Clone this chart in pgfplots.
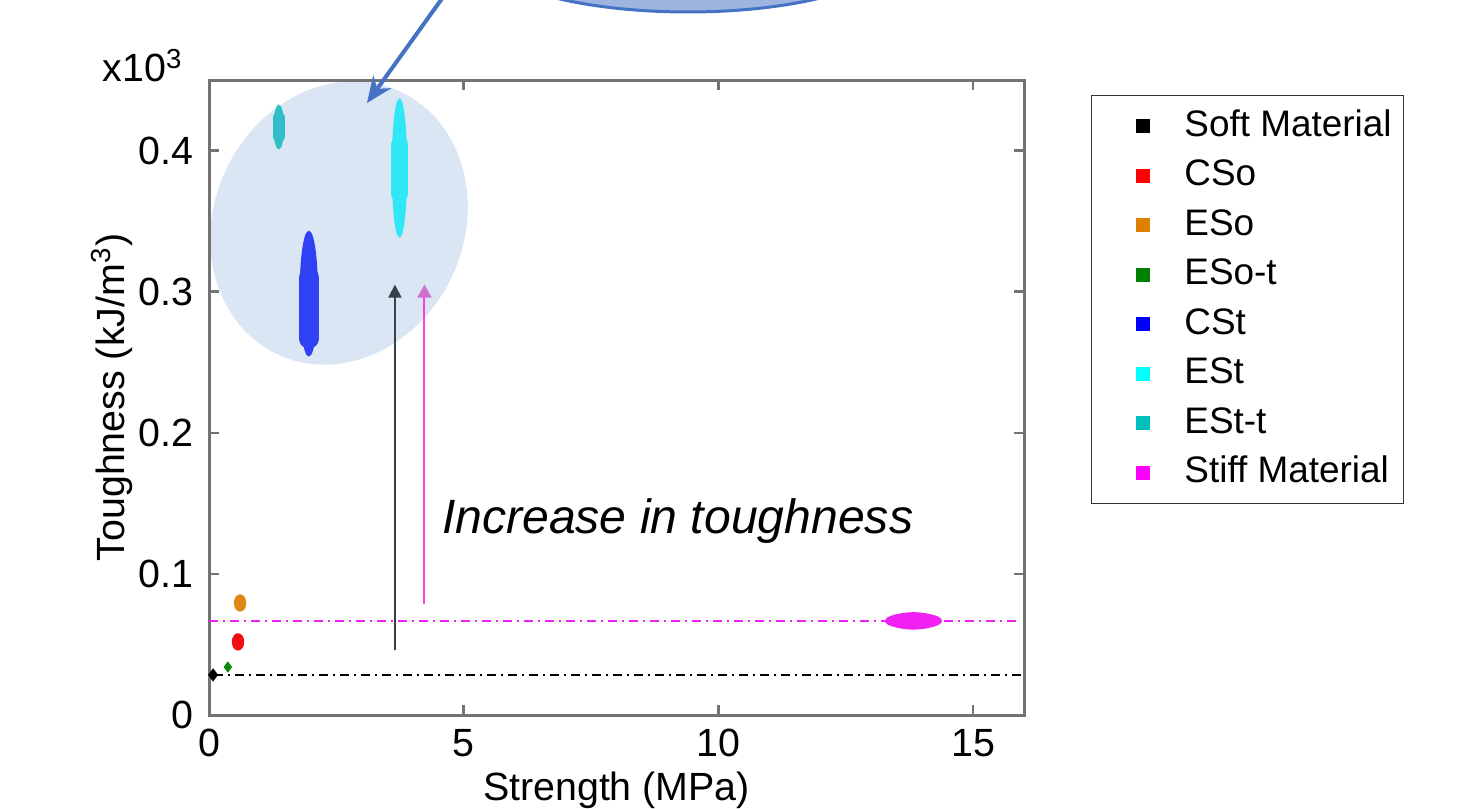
\documentclass[border=0pt]{standalone}
\usepackage{pgfplots}
\pgfplotsset{compat=1.18}
\usepackage{fontspec}
\setmainfont{Liberation Sans}
\usetikzlibrary{arrows.meta}
\definecolor{annfill}{HTML}{DAE6F4}
\definecolor{callfill}{HTML}{9DB4E0}
\definecolor{callline}{HTML}{4472C4}
\definecolor{csoc}{HTML}{F01010}
\definecolor{esoc}{HTML}{E08815}
\definecolor{esotc}{HTML}{0A8A0A}
\definecolor{cstc}{HTML}{3040F5}
\definecolor{estc}{HTML}{30E8F5}
\definecolor{esttc}{HTML}{30BFC8}
\definecolor{stiffc}{HTML}{F020F0}
\definecolor{lgblack}{HTML}{000000}
\definecolor{lgred}{HTML}{FF0000}
\definecolor{lgorange}{HTML}{DD8000}
\definecolor{lggreen}{HTML}{008000}
\definecolor{lgblue}{HTML}{0000FF}
\definecolor{lgcyan}{HTML}{00FFFF}
\definecolor{lgteal}{HTML}{00BFBF}
\definecolor{lgmag}{HTML}{FF00FF}
\definecolor{arrdark}{HTML}{37414B}
\definecolor{arrpink}{HTML}{FF40E0}
\definecolor{arrhead}{HTML}{D070D0}
\newcommand{\lgsq}[1]{\addlegendimage{legend image code/.code={\fill[#1] (0mm,-0.65mm) rectangle (1.3mm,0.65mm); \path (-4.0mm,0) (4.0mm,0);}}}
\begin{document}
\begin{tikzpicture}
\useasboundingbox (0,0) rectangle (147.6mm,80.8mm);
\clip (0,0) rectangle (147.6mm,80.8mm);
\fill[annfill] (33.9mm,58.5mm) ellipse[x radius=12.5mm, y radius=14.5mm, rotate=-25];
\filldraw[fill=callfill, draw=callline, line width=0.3mm] (68.8mm,85.6mm) ellipse[x radius=20.6mm, y radius=6mm];
\begin{axis}[
  at={(20.9mm,9.3mm)}, anchor=south west,
  scale only axis, width=81.5mm, height=63.5mm,
  xmin=0, xmax=16, ymin=0, ymax=0.45,
  xtick={0,5,10,15}, xticklabels={0,5,10,15},
  ytick={0,0.1,0.2,0.3,0.4}, yticklabels={0,0.1,0.2,0.3,0.4},
  scaled y ticks=false,
  /pgf/number format/assume math mode=true,
  tick align=inside, major tick length=1mm,
  axis line style={black!55, line width=0.3mm},
  every tick/.style={black!55, line width=0.25mm},
  tick label style={font=\fontsize{11.2}{13}\selectfont, black},
  xticklabel style={yshift=-0.2mm},
  yticklabel style={xshift=-0.3mm},
  label style={font=\fontsize{11.2}{13}\selectfont},
  xlabel={Strength (MPa)},
  ylabel={Toughness (kJ/m\textsuperscript{3})},
  xlabel style={at={(axis description cs:0.5,-0.118)}, anchor=center},
  ylabel style={at={(axis description cs:-0.119,0.5)}, anchor=center},
  legend style={at={(1.082,0.976)}, anchor=north west, draw=black!80, line width=0.3pt,
    font=\fontsize{10.5}{12}\selectfont, legend cell align=left,
    nodes={text height=2.8mm, text depth=0.8mm, inner ysep=0.5mm},
    row sep=0.35mm, inner ysep=0.75mm, inner xsep=0.5mm},
]
% reference lines
\addplot[forget plot, black, line width=0.2mm, dash pattern=on 0.9mm off 0.5mm on 0.2mm off 0.5mm] coordinates {(0.1,0.0284) (16,0.0284)};
\addplot[forget plot, stiffc, line width=0.2mm, dash pattern=on 0.9mm off 0.5mm on 0.2mm off 0.5mm] coordinates {(0,0.0667) (15.9,0.0667)};
% Soft material
\addplot[forget plot, only marks, mark=diamond*, mark size=0.55mm, black] coordinates {(0.08,0.0284)};
% CSo
\addplot[forget plot, only marks, mark=*, mark size=0.55mm, csoc, mark options={yscale=1.45}] coordinates {(0.57,0.0518)};
% ESo
\addplot[forget plot, only marks, mark=*, mark size=0.55mm, esoc, mark options={yscale=1.45}] coordinates {(0.61,0.0794)};
% ESo-t
\addplot[forget plot, only marks, mark=diamond*, mark size=0.45mm, esotc] coordinates {(0.37,0.034)};
% CSt
\addplot[forget plot, only marks, mark=*, mark size=0.85mm, cstc, mark options={yscale=7.3}] coordinates {(1.96,0.2986)};
\addplot[forget plot, cstc, line width=2.0mm, line cap=round] coordinates {(1.96,0.3099) (1.96,0.2667)};
% ESt
\addplot[forget plot, only marks, mark=*, mark size=0.7mm, estc, mark options={yscale=9.8}] coordinates {(3.74,0.3876)};
\addplot[forget plot, estc, line width=1.7mm, line cap=round] coordinates {(3.74,0.4043) (3.74,0.3695)};
% ESt-t
\addplot[forget plot, only marks, mark=*, mark size=0.45mm, esttc, mark options={yscale=4.8}] coordinates {(1.37,0.4167)};
\addplot[forget plot, esttc, line width=1.15mm, line cap=round] coordinates {(1.37,0.4234) (1.37,0.4099)};
% Stiff material
\addplot[forget plot, only marks, mark=*, mark size=0.75mm, stiffc, mark options={xscale=3.7}] coordinates {(13.83,0.0667)};
\addplot[forget plot, only marks, mark=*, mark size=0.8mm, stiffc, mark options={xscale=2.9}] coordinates {(13.83,0.0667)};
% arrows
\draw[arrdark, line width=0.2mm, -{Triangle[length=1.3mm, width=1.3mm]}] (axis cs:3.65,0.046) -- (axis cs:3.65,0.305);
\draw[arrpink, line width=0.2mm, -{Triangle[length=1.3mm, width=1.4mm, color=arrhead]}] (axis cs:4.23,0.079) -- (axis cs:4.23,0.305);
\node[font=\fontsize{13.7}{16}\selectfont\itshape] at (axis cs:9.2,0.1376) {Increase in toughness};
% legend
\lgsq{lgblack}\addlegendentry{Soft Material}
\lgsq{lgred}\addlegendentry{CSo}
\lgsq{lgorange}\addlegendentry{ESo}
\lgsq{lggreen}\addlegendentry{ESo-t}
\lgsq{lgblue}\addlegendentry{CSt}
\lgsq{lgcyan}\addlegendentry{ESt}
\lgsq{lgteal}\addlegendentry{ESt-t}
\lgsq{lgmag}\addlegendentry{Stiff Material}
\end{axis}
\draw[callline, line width=0.4mm, -{Stealth[length=2.6mm, width=2.2mm]}] (44.6mm,81.5mm) -- (36.7mm,70.5mm);
\node[anchor=base west, font=\fontsize{11.2}{13}\selectfont, inner sep=0pt] at (10.2mm,72.6mm) {x10\textsuperscript{3}};
\end{tikzpicture}
\end{document}
